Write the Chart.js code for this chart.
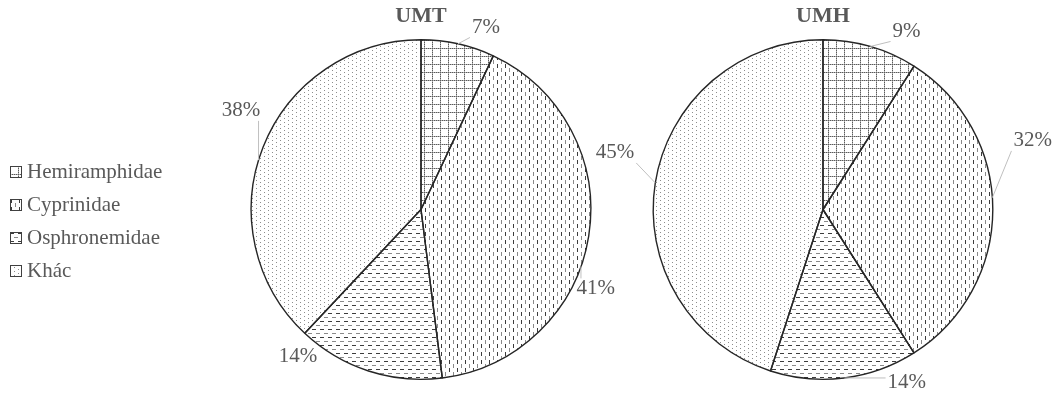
<!DOCTYPE html>
<html>
<head>
<meta charset="utf-8">
<title>UMT / UMH</title>
<script src="https://cdn.jsdelivr.net/npm/chart.js@4.4.1/dist/chart.umd.min.js"></script>
<style>
  html, body { margin: 0; padding: 0; background: #fff; }
  #wrap { position: relative; width: 1058px; height: 393px; overflow: hidden; }
  #wrap canvas.pie { position: absolute; top: 0; }
  #pieUMT { left: 200px; }
  #pieUMH { left: 588px; }
  #legend {
    position: absolute; left: 10px; top: 155px;
    font-family: "Liberation Serif", "Times New Roman", serif;
    font-size: 21px; color: #595959;
  }
  #legend .row { display: flex; align-items: center; height: 33px; white-space: nowrap; }
  #legend .row canvas { width: 12px; height: 12px; margin-right: 5px; display: block; }
</style>
</head>
<body>
<div id="wrap">
  <div id="legend"></div>
  <canvas id="pieUMT" class="pie" width="442" height="393"></canvas>
  <canvas id="pieUMH" class="pie" width="470" height="393"></canvas>
</div>
<script>
// Families, in the order the slices run clockwise from 12 o'clock
const categories = ['Hemiramphidae', 'Cyprinidae', 'Osphronemidae', 'Khác'];
// Share of each family (%) at the two sites
const umtValues = [7, 41, 14, 38];
const umhValues = [9, 32, 14, 45];
const siteNames = ['UMT', 'UMH'];

const TEXT = '#595959';
const SERIF = '"Liberation Serif", "Times New Roman", serif';

// ---- monochrome hatch fills (8x8 tiles) ----
function tile(draw) {
  const c = document.createElement('canvas');
  c.width = 8; c.height = 8;
  const g = c.getContext('2d');
  draw(g);
  return document.createElement('canvas').getContext('2d').createPattern(c, 'repeat');
}
const fills = [
  // dotted grid
  tile(g => {
    g.fillStyle = '#5a5a5a';
    for (let i = 0; i < 8; i += 2) { g.fillRect(i, 0, 1, 1); g.fillRect(0, i, 1, 1); }
    g.fillStyle = '#b0b0b0';
    for (let i = 1; i < 8; i += 2) { g.fillRect(i, 0, 1, 1); g.fillRect(0, i, 1, 1); }
  }),
  // dashed vertical
  tile(g => {
    g.fillStyle = '#3c3c3c'; g.fillRect(1, 0, 1, 4);
    g.fillStyle = '#8a8a8a'; g.fillRect(5, 4, 1, 4);
  }),
  // dashed horizontal
  tile(g => {
    g.fillStyle = '#3c3c3c'; g.fillRect(0, 1, 4, 1);
    g.fillStyle = '#8a8a8a'; g.fillRect(4, 5, 4, 1);
  }),
  // sparse dots
  tile(g => {
    g.fillStyle = '#8c8c8c';
    g.fillRect(0, 0, 1, 1); g.fillRect(4, 2, 1, 1);
    g.fillRect(0, 4, 1, 1); g.fillRect(4, 6, 1, 1);
  })
];

// ---- percentage labels with leader lines ----
const sliceLabels = {
  id: 'sliceLabels',
  afterDatasetsDraw(chart, args, opts) {
    const ctx = chart.ctx;
    const meta = chart.getDatasetMeta(0);
    const values = chart.data.datasets[0].data;
    ctx.save();
    ctx.font = opts.size + 'px ' + SERIF;
    ctx.textAlign = 'center';
    ctx.textBaseline = 'middle';
    ctx.strokeStyle = '#bfbfbf';
    ctx.lineWidth = 1;
    meta.data.forEach((arc, i) => {
      const { x, y, startAngle, endAngle, outerRadius } =
        arc.getProps(['x', 'y', 'startAngle', 'endAngle', 'outerRadius'], true);
      const mid = (startAngle + endAngle) / 2;
      const p = opts.place[i];
      const a = mid + p.shift * Math.PI / 180;
      const lx = x + outerRadius * p.dist * Math.cos(a);
      const ly = y + outerRadius * p.dist * Math.sin(a);
      const text = values[i] + '%';
      const w = ctx.measureText(text).width;
      const h = opts.size * 0.7;
      if (p.leader !== false) {
        const la = p.leader == null ? mid : p.leader * Math.PI / 180;
        const ax = x + outerRadius * Math.cos(la);
        const ay = y + outerRadius * Math.sin(la);
        const bx = Math.max(lx - w / 2 - 2, Math.min(ax, lx + w / 2 + 2));
        const by = Math.max(ly - h / 2 - 3, Math.min(ay, ly + h / 2 + 3));
        ctx.beginPath();
        ctx.moveTo(ax, ay);
        ctx.lineTo(bx, by);
        ctx.stroke();
      }
      ctx.fillStyle = TEXT;
      ctx.fillText(text, lx, ly);
    });
    ctx.restore();
  }
};

function makePie(id, site, values, sidePad, place) {
  return new Chart(document.getElementById(id), {
    type: 'pie',
    data: {
      labels: categories,
      datasets: [{
        data: values,
        backgroundColor: fills,
        borderColor: '#262626',
        borderWidth: 1.4,
        hoverOffset: 0,
        offset: 0
      }]
    },
    options: {
      responsive: false,
      animation: false,
      devicePixelRatio: 1,
      events: [],
      layout: { padding: { top: 0, bottom: 13, left: sidePad, right: sidePad } },
      plugins: {
        legend: { display: false },
        tooltip: { enabled: false },
        title: {
          display: true,
          text: site,
          color: TEXT,
          font: { family: SERIF, size: 22, weight: 'bold', lineHeight: 1.2 },
          padding: { top: 3, bottom: 9.6 }
        },
        sliceLabels: { size: 21, place }
      }
    },
    plugins: [sliceLabels]
  });
}

makePie('pieUMT', siteNames[0], umtValues, 40, [
  { shift: 7, dist: 1.14 },
  { shift: 15.4, dist: 1.13, leader: 19.6 },
  { shift: 21.9, dist: 1.13, leader: false },
  { shift: 7.2, dist: 1.21, leader: 196.9 }
]);
makePie('pieUMH', siteNames[1], umhValues, 60, [
  { shift: 8.9, dist: 1.16 },
  { shift: -18.2, dist: 1.30, leader: -4 },
  { shift: -18.7, dist: 1.13 },
  { shift: 6.3, dist: 1.27 }
]);

// ---- shared legend ----
const legend = document.getElementById('legend');
categories.forEach((name, i) => {
  const row = document.createElement('div');
  row.className = 'row';
  const sw = document.createElement('canvas');
  sw.width = 12; sw.height = 12;
  const g = sw.getContext('2d');
  g.fillStyle = '#fff'; g.fillRect(0, 0, 12, 12);
  g.fillStyle = fills[i]; g.fillRect(0, 0, 12, 12);
  g.strokeStyle = '#404040'; g.lineWidth = 1; g.strokeRect(0.5, 0.5, 11, 11);
  const label = document.createElement('span');
  label.textContent = name;
  row.appendChild(sw);
  row.appendChild(label);
  legend.appendChild(row);
});
</script>
</body>
</html>
